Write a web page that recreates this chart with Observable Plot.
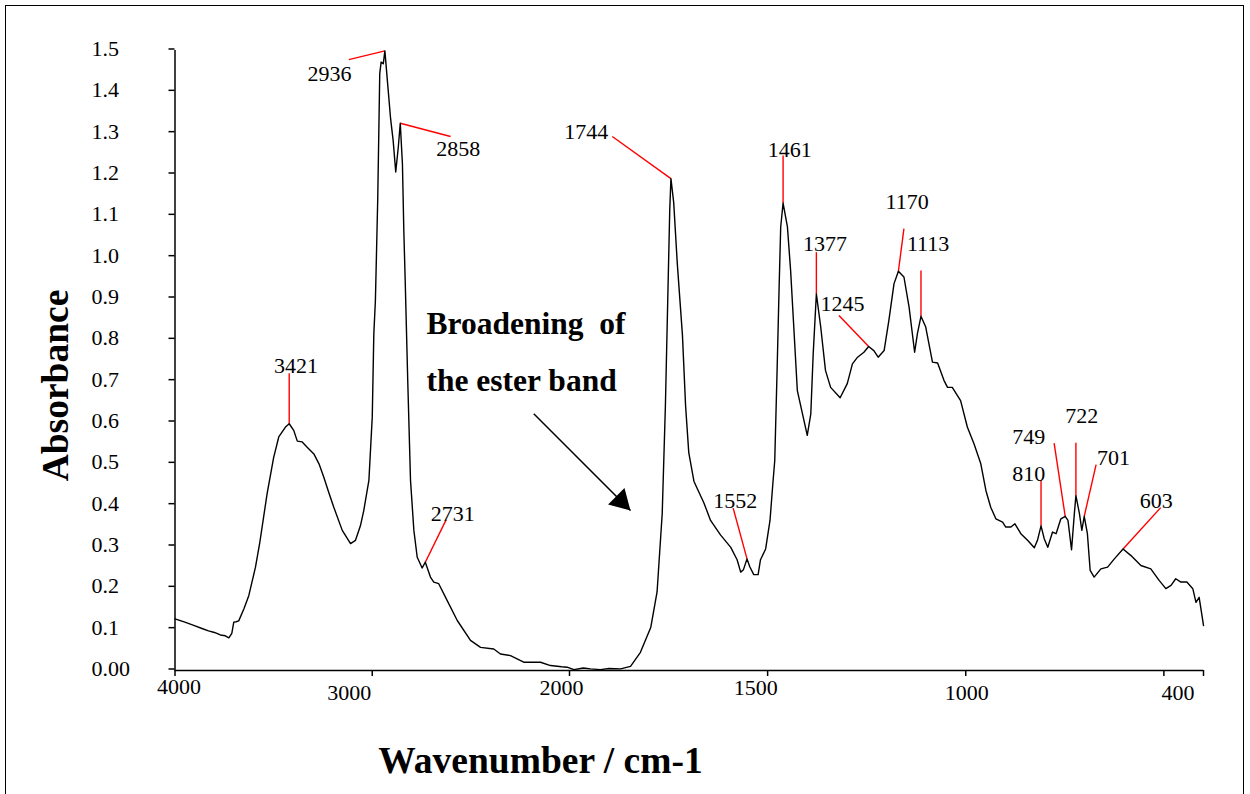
<!DOCTYPE html>
<html><head><meta charset="utf-8">
<script src="https://cdn.jsdelivr.net/npm/d3@7"></script>
<script src="https://cdn.jsdelivr.net/npm/@observablehq/plot@0.6"></script>
<style>
html,body{margin:0;padding:0;background:#fff;overflow:hidden;}
#wrap{position:relative;width:1250px;height:794px;}
#border{position:absolute;left:5px;top:5px;width:1237px;height:830px;border:1.5px solid #000;}
#chart{position:absolute;left:0;top:0;}
</style></head><body>
<div id="wrap"><div id="border"></div><div id="chart"></div></div>
<script>
// ---- spectrum (wavenumber cm-1, absorbance) ----
const wavenumber = [4000,3950,3905,3860,3830,3800,3770,3745,3727,3712,3702,3690,3677,3650,3626,3592,3570,3533,3500,3474,3440,3421,3398,3380,3355,3330,3296,3270,3246,3220,3195,3152,3110,3085,3060,3043,3017,3000,2992,2984,2972,2962,2955,2944,2936,2919,2907,2894,2881,2868,2858,2847,2840,2833,2820,2806,2789,2772,2747,2731,2705,2688,2663,2620,2569,2502,2451,2384,2350,2299,2232,2147,2096,2040,2012,1989,1965,1947,1922,1900,1871,1846,1821,1795,1779,1766,1758,1752,1747,1744,1737,1728,1715,1707,1699,1686,1678,1661,1644,1619,1593,1577,1568,1561,1552,1545,1535,1524,1518,1505,1494,1487,1482,1476,1471,1467,1461,1450,1442,1434,1425,1412,1400,1391,1385,1377,1366,1354,1341,1317,1299,1286,1273,1257,1245,1232,1221,1206,1194,1181,1170,1156,1143,1129,1122,1113,1101,1084,1071,1055,1046,1034,1013,996,979,962,949,937,924,907,899,886,876,861,844,827,819,810,802,793,781,772,760,749,742,733,726,722,713,707,701,693,686,676,659,642,625,603,583,558,533,512,495,482,470,457,442,427,419,411,400];
const absorbance = [0.125,0.117,0.109,0.101,0.096,0.092,0.086,0.084,0.079,0.09,0.117,0.118,0.12,0.15,0.181,0.25,0.31,0.428,0.515,0.565,0.589,0.597,0.581,0.555,0.553,0.54,0.524,0.5,0.468,0.43,0.395,0.339,0.307,0.315,0.35,0.387,0.46,0.613,0.815,0.895,1.145,1.444,1.472,1.468,1.499,1.403,1.335,1.282,1.206,1.266,1.324,1.226,1.065,0.944,0.7,0.46,0.339,0.274,0.248,0.262,0.226,0.214,0.21,0.169,0.121,0.073,0.056,0.052,0.04,0.036,0.02,0.02,0.012,0.009,0.008,0.002,0.006,0.004,0.002,0.005,0.004,0.01,0.044,0.104,0.19,0.38,0.64,0.899,1.115,1.19,1.132,0.985,0.812,0.64,0.527,0.458,0.441,0.406,0.363,0.328,0.298,0.268,0.238,0.244,0.27,0.251,0.232,0.232,0.268,0.294,0.363,0.45,0.508,0.73,0.927,1.073,1.131,1.073,0.968,0.831,0.677,0.621,0.569,0.621,0.766,0.911,0.831,0.726,0.685,0.66,0.694,0.742,0.758,0.77,0.784,0.774,0.758,0.774,0.847,0.936,0.966,0.952,0.879,0.77,0.815,0.857,0.831,0.746,0.744,0.702,0.685,0.685,0.653,0.589,0.548,0.5,0.435,0.395,0.367,0.359,0.347,0.347,0.355,0.331,0.315,0.297,0.315,0.35,0.319,0.298,0.335,0.331,0.367,0.373,0.363,0.292,0.379,0.423,0.379,0.339,0.373,0.331,0.242,0.226,0.246,0.25,0.27,0.294,0.278,0.254,0.246,0.218,0.198,0.206,0.222,0.214,0.214,0.198,0.165,0.177,0.109];

// ---- peak annotations ----
const peakLabels = ["3421","2936","2858","2731","1744","1552","1461","1377","1245","1170","1113","810","749","722","701","603"];
const peakWn     = [3421,2936,2858,2731,1744,1552,1461,1377,1245,1170,1113,810,749,722,701,603];
const peakAbs    = [0.597,1.499,1.324,0.262,1.19,0.27,1.131,0.911,0.784,0.966,0.857,0.35,0.373,0.423,0.373,0.294];
const leaderWn   = [3421,3119,2603,2625,1892,1587,1461,1377,1320,1156,1113,810,777,722,671,508];
const leaderAbs  = [0.719,1.478,1.292,0.365,1.292,0.393,1.246,1.012,0.859,1.069,0.968,0.46,0.55,0.551,0.498,0.394];
const labelWn    = [3387,3217,2564,2592,1958,1582,1444,1355,1311,1148,1095,841,841,707,627,519];
const labelAbs   = [0.736,1.444,1.261,0.379,1.303,0.409,1.259,1.031,0.888,1.134,1.031,0.476,0.565,0.615,0.515,0.411];

// ---- "broadening" note and arrow ----
const noteText = ["Broadening\u00a0\u00a0of\nthe ester band"];
const noteWn = [2725];
const noteAbs = [0.790];
const arrowFromWn = [2181], arrowFromAbs = [0.621];
const arrowToWn = [1846], arrowToAbs = [0.387];
const arrowHeadWn = [1870], arrowHeadAbs = [0.41];

// ---- axes ----
const yTicks = [0,0.1,0.2,0.3,0.4,0.5,0.6,0.7,0.8,0.9,1.0,1.1,1.2,1.3,1.4,1.5];
const yTickLabels = ["0.00","0.1","0.2","0.3","0.4","0.5","0.6","0.7","0.8","0.9","1.0","1.1","1.2","1.3","1.4","1.5"];
const xTicks = [4000,3000,2000,1500,1000,500,400];
const xTickLabels = ["4000","3000","2000","1500","1000","400",""];
const xTitle = "Wavenumber / cm-1";
const yTitle = "Absorbance";

const spectrum = wavenumber.map((w, i) => ({wn: w, abs: absorbance[i]}));
const peaks = peakLabels.map((t, i) => ({label: t, wn: peakWn[i], abs: peakAbs[i], wn2: leaderWn[i], abs2: leaderAbs[i], tx: labelWn[i], ty: labelAbs[i]}));
const note = noteText.map((t, i) => ({t, wn: noteWn[i], abs: noteAbs[i]}));
const arrow = arrowFromWn.map((w, i) => ({x1: w, y1: arrowFromAbs[i], x2: arrowToWn[i], y2: arrowToAbs[i], hx: arrowHeadWn[i], hy: arrowHeadAbs[i]}));

// per-label nudges (the original tick labels are slightly staggered)
const xLabelNudge = {4000: [4, 0], 3000: [-23, 6], 2000: [-8, 1.5], 1500: [-12, 1.5], 1000: [1, 6], 500: [14, 6]};

const FONT = "'Liberation Serif', 'Times New Roman', Times, serif";

const xLabelAxes = xTicks.filter((t, i) => xTickLabels[i] !== "").map(t => {
  const i = xTicks.indexOf(t);
  const [dx, dy] = xLabelNudge[t] || [0, 0];
  return Plot.axisX({ticks: [t], tickSize: 0, tickPadding: 16, lineAnchor: "middle",
    tickFormat: () => xTickLabels[i], dx, dy, fontSize: 22, label: null});
});

const chart = Plot.plot({
  width: 1250,
  height: 794,
  marginLeft: 174.5,
  marginRight: 47,
  marginTop: 50,
  marginBottom: 124,
  style: {fontFamily: FONT, fontSize: "22px", color: "#000", background: "transparent"},
  x: {type: "linear", domain: [4000, 2000, 400], range: [174.5, 569, 1203], label: null},
  y: {type: "linear", domain: [0, 1.5], range: [670, 50], label: null},
  marks: [
    Plot.ruleX([4000], {stroke: "#000", strokeWidth: 1.5}),
    Plot.ruleY([0], {stroke: "#000", strokeWidth: 1.5}),
    Plot.axisY({ticks: yTicks, tickSize: 6, tickPadding: 77.5, textAnchor: "start",
      tickFormat: d => yTickLabels[yTicks.indexOf(d)], fontSize: 22, strokeWidth: 1.5, dy: -1.5, label: null}),
    Plot.axisX({ticks: xTicks, tickSize: 6, tickFormat: () => "", strokeWidth: 1.5, label: null}),
    ...xLabelAxes,
    Plot.link(peaks, {x1: "wn", y1: "abs", x2: "wn2", y2: "abs2", stroke: "#ff0000", strokeWidth: 1.4}),
    Plot.line(spectrum, {x: "wn", y: "abs", stroke: "#000", strokeWidth: 1.4}),
    Plot.text(peaks, {x: "tx", y: "ty", text: "label", fontSize: 22, fill: "#000"}),
    Plot.text(note, {x: "wn", y: "abs", text: "t", textAnchor: "start", lineAnchor: "middle", fontSize: 31.5, fontWeight: "bold", lineHeight: 1.81, fill: "#000"}),
    Plot.link(arrow, {x1: "x1", y1: "y1", x2: "x2", y2: "y2", stroke: "#000", strokeWidth: 1.5}),
    Plot.dot(arrow, {x: "hx", y: "hy", symbol: "triangle", r: 8.6, fill: "#000", stroke: "none", rotate: 135}),
    Plot.text([yTitle], {text: d => d, frameAnchor: "left", textAnchor: "middle", lineAnchor: "middle", rotate: -90, dx: -119.5, dy: 25, fontSize: 37.5, fontWeight: "bold", fill: "#000"}),
    Plot.text([xTitle], {text: d => d, frameAnchor: "bottom", textAnchor: "middle", lineAnchor: "middle", dx: -148.75, dy: 90, fontSize: 37.5, fontWeight: "bold", fill: "#000"})
  ]
});
document.getElementById("chart").appendChild(chart);
</script></body></html>
